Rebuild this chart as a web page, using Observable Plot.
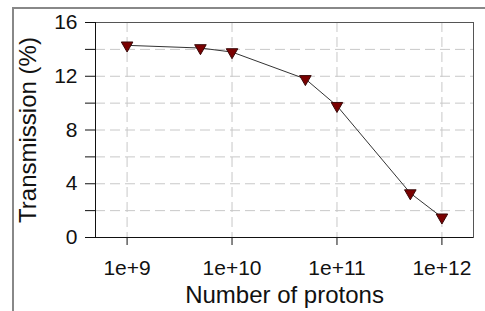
<!DOCTYPE html>
<html><head><meta charset="utf-8">
<script src="https://cdn.jsdelivr.net/npm/d3@7"></script>
<script src="https://cdn.jsdelivr.net/npm/@observablehq/plot@0.6"></script>
<style>
html,body{margin:0;padding:0;background:#fff;overflow:hidden;width:485px;height:311px}
#wrap{position:relative;width:485px;height:311px}
#border{position:absolute;left:12px;top:7px;width:500px;height:320px;border:2px solid #888;box-sizing:border-box}
#chart{position:absolute;left:0;top:0}
#chart svg text{font-size:21px !important;font-family:'Liberation Sans',Arial,sans-serif !important;fill:#111}
#chart svg g[aria-label="x-axis label"] text,#chart svg g[aria-label="y-axis label"] text{font-size:24px !important}
</style>
</head><body>
<div id="wrap"><div id="border"></div><div id="chart"></div></div>
<script>
const protons = [1e9, 5e9, 1e10, 5e10, 1e11, 5e11, 1e12];
const transmission = [14.3, 14.1, 13.8, 11.8, 9.8, 3.3, 1.5];
const xTicks = [1e9, 1e10, 1e11, 1e12];
const xTickLabels = ["1e+9", "1e+10", "1e+11", "1e+12"];
const yTicks = [0, 2, 4, 6, 8, 10, 12, 14, 16];
const yLabelTicks = [0, 4, 8, 12, 16];

const data = protons.map((p, i) => ({p, t: transmission[i]}));

const chart = Plot.plot({
  width: 485, height: 311,
  marginLeft: 95, marginRight: 12, marginTop: 22, marginBottom: 74,
  style: {fontFamily: "'Liberation Sans', Arial, sans-serif", fontSize: "21px", color: "#111", background: "transparent"},
  x: {type: "log", domain: [5e8, 2e12]},
  y: {domain: [0, 16]},
  marks: [
    Plot.gridY(yTicks.filter(d => d > 0 && d < 16), {stroke: "#c8c8c8", strokeOpacity: 1, strokeDasharray: "10,5"}),
    Plot.gridX(xTicks, {stroke: "#c8c8c8", strokeOpacity: 1, strokeDasharray: "10,5"}),
    Plot.frame({stroke: "#555"}),
    Plot.axisY(yTicks, {tickSize: 10, tickPadding: 8, tickFormat: d => yLabelTicks.includes(d) ? String(d) : "", label: "Transmission (%)", labelAnchor: "center", labelArrow: "none", labelOffset: 77, stroke: "#111"}),
    Plot.axisX(xTicks, {tickSize: 8, tickPadding: 15, tickFormat: d => xTickLabels[xTicks.indexOf(d)], label: "Number of protons", labelAnchor: "center", labelOffset: 65, labelArrow: "none", stroke: "#111"}),
    Plot.ruleY([0], {stroke: "#111"}),
    Plot.ruleX([5e8], {stroke: "#111"}),
    Plot.line(data, {x: "p", y: "t", stroke: "#333", strokeWidth: 1}),
    Plot.dot(data, {x: "p", y: "t", symbol: "triangle", rotate: 180, r: 4.3, fill: "#7a0000", stroke: "#3a0a0a", strokeWidth: 1})
  ]
});
document.getElementById("chart").appendChild(chart);
</script>
</body></html>
